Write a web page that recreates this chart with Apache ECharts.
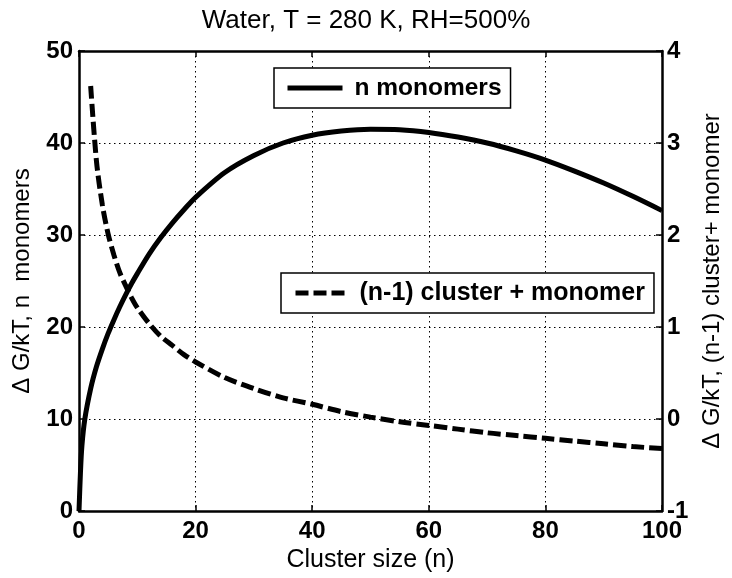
<!DOCTYPE html>
<html><head><meta charset="utf-8">
<script src="https://cdn.jsdelivr.net/npm/echarts@6/dist/echarts.min.js"></script>
<style>html,body{margin:0;padding:0;background:#fff}#c{width:732px;height:578px}</style>
</head><body><div id="c"></div>
<script>
const titleText = 'Water, T = 280 K, RH=500%';
const xName = 'Cluster size (n)';
const yLeftName = '\u0394 G/kT, n  monomers';
const yRightName = '\u0394 G/kT, (n-1) cluster+ monomer';
const seriesNames = ['n monomers', '(n-1) cluster + monomer'];

const xTicks = [0, 20, 40, 60, 80, 100];
const yLeftTicks = [0, 10, 20, 30, 40, 50];
const yRightTicks = [-1, 0, 1, 2, 3, 4];

// Solid curve: ΔG/kT of n monomers (left axis)
const nMono = [0, 0.25, 0.5, 1, 2, 3, 4, 5, 6, 7, 8, 9, 10, 12, 14, 16, 18, 20, 25, 30, 35, 40, 45, 50, 55, 60, 65, 70, 75, 80, 85, 90, 95, 100];
const gMono = [0, 4.2, 7.1, 10.0, 13.3, 15.7, 17.6, 19.3, 20.8, 22.2, 23.5, 24.7, 25.8, 27.9, 29.7, 31.3, 32.75, 34.1, 36.8, 38.65, 40.0, 40.85, 41.3, 41.5, 41.45, 41.15, 40.65, 40.0, 39.15, 38.15, 36.95, 35.65, 34.2, 32.65];

// Dashed curve: (n-1) cluster + monomer (right axis)
const nPair = [2, 3, 4, 5, 6, 7, 8, 9, 10, 12, 14, 16, 18, 20, 25, 30, 35, 40, 45, 50, 55, 60, 65, 70, 75, 80, 85, 90, 95, 100];
const gPair = [3.62, 2.80, 2.33, 2.01, 1.78, 1.59, 1.45, 1.32, 1.21, 1.04, 0.90, 0.80, 0.70, 0.62, 0.45, 0.33, 0.23, 0.16, 0.08, 0.02, -0.03, -0.07, -0.11, -0.15, -0.18, -0.21, -0.24, -0.27, -0.30, -0.32];

const F = 'Liberation Sans, Arial, Helvetica, sans-serif';
const axisLine = {show: true, onZero: false, lineStyle: {color: '#000', width: 2.5}};
const axisTick = {show: true, inside: true, length: 6, lineStyle: {color: '#000', width: 1.5}};
const tickLabel = {fontSize: 24, fontWeight: 'bold', fontFamily: F, color: '#000'};
const gridLine = {show: true, lineStyle: {color: '#000', width: 1, type: [1.5, 3.5]}};

const chart = echarts.init(document.getElementById('c'), null, {renderer: 'canvas'});
chart.setOption({
  animation: false,
  backgroundColor: '#fff',
  title: {text: titleText, left: 'center', top: 8, padding: 0,
    textStyle: {fontSize: 26, fontWeight: 'normal', fontFamily: F, color: '#000'}},
  grid: {left: 79, right: 62, top: 51, bottom: 62},
  legend: [
    {data: [seriesNames[0]], left: 274, top: 68, orient: 'horizontal', selectedMode: false,
     itemWidth: 55, itemHeight: 14, padding: [7, 9, 7, 11],
     borderColor: '#000', borderWidth: 1.5, backgroundColor: '#fff',
     lineStyle: {width: 5}, itemStyle: {opacity: 0},
     textStyle: {fontSize: 24.5, fontWeight: 'bold', fontFamily: F, color: '#000', lineHeight: 26, padding: [0, 0, 0, 7]}},
    {data: [seriesNames[1]], left: 281, top: 273, orient: 'horizontal', selectedMode: false,
     itemWidth: 49, itemHeight: 14, padding: [7, 9, 7, 12],
     borderColor: '#000', borderWidth: 1.5, backgroundColor: '#fff',
     lineStyle: {width: 5}, itemStyle: {opacity: 0},
     textStyle: {fontSize: 25, fontWeight: 'bold', fontFamily: F, color: '#000', lineHeight: 26, padding: [0, 0, 0, 10]}}
  ],
  xAxis: [
    {type: 'value', position: 'bottom', min: xTicks[0], max: xTicks[xTicks.length - 1], interval: xTicks[1] - xTicks[0],
     axisLine, axisTick, axisLabel: Object.assign({margin: 8}, tickLabel), splitLine: gridLine,
     name: xName, nameLocation: 'middle', nameGap: 37,
     nameTextStyle: {fontSize: 25, fontFamily: F, color: '#000'}},
    {type: 'value', position: 'top', min: xTicks[0], max: xTicks[xTicks.length - 1], interval: xTicks[1] - xTicks[0],
     axisLine, axisTick, axisLabel: {show: false}, splitLine: {show: false}}
  ],
  yAxis: [
    {type: 'value', position: 'left', min: yLeftTicks[0], max: yLeftTicks[yLeftTicks.length - 1], interval: yLeftTicks[1] - yLeftTicks[0],
     axisLine, axisTick, axisLabel: Object.assign({margin: 6}, tickLabel), splitLine: gridLine,
     name: yLeftName, nameLocation: 'middle', nameGap: 45,
     nameTextStyle: {fontSize: 24, fontFamily: F, color: '#000'}},
    {type: 'value', position: 'right', min: yRightTicks[0], max: yRightTicks[yRightTicks.length - 1], interval: yRightTicks[1] - yRightTicks[0],
     axisLine, axisTick, axisLabel: Object.assign({margin: 5}, tickLabel), splitLine: {show: false},
     name: yRightName, nameLocation: 'middle', nameGap: 38,
     nameTextStyle: {fontSize: 24, fontFamily: F, color: '#000'}}
  ],
  series: [
    {name: seriesNames[0], type: 'line', xAxisIndex: 0, yAxisIndex: 0, symbol: 'none', showSymbol: false,
     smooth: 0.3,
     data: nMono.map((n, i) => [n, gMono[i]]),
     lineStyle: {color: '#000', width: 5}, itemStyle: {color: '#000'}, z: 3},
    {name: seriesNames[1], type: 'line', xAxisIndex: 0, yAxisIndex: 1, symbol: 'none', showSymbol: false,
     smooth: 0.3,
     data: nPair.map((n, i) => [n, gPair[i]]),
     lineStyle: {color: '#000', width: 5, type: [13, 5]}, itemStyle: {color: '#000'}, z: 3}
  ]
});
</script></body></html>
